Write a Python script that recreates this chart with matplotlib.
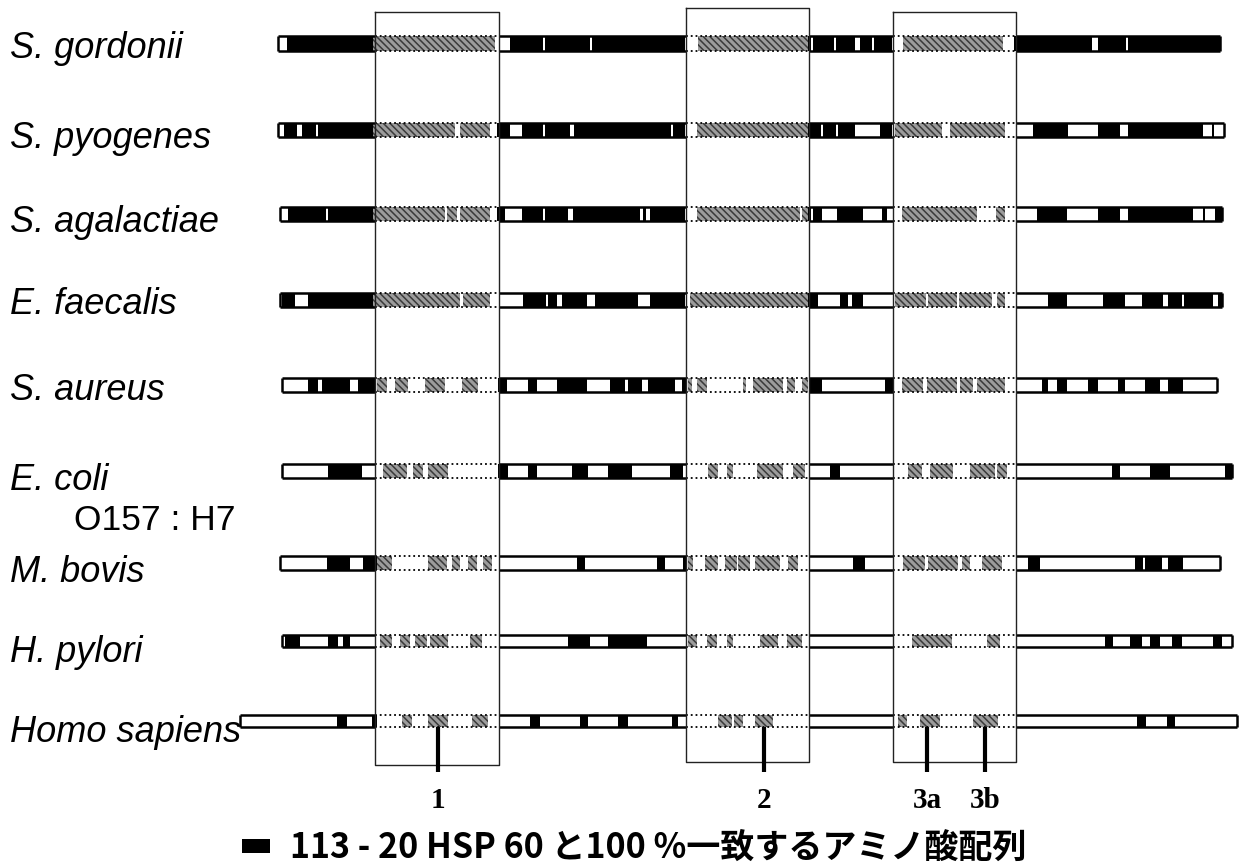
import matplotlib
matplotlib.use('Agg')
import matplotlib.pyplot as plt

plt.rcParams['font.family'] = ['Liberation Sans', 'Noto Sans CJK JP', 'DejaVu Sans']
plt.rcParams['hatch.color'] = '#3a3a3a'
plt.rcParams['hatch.linewidth'] = 1.1

# species in the alignment
species = ['S. gordonii', 'S. pyogenes', 'S. agalactiae', 'E. faecalis', 'S. aureus',
           'E. coli', 'M. bovis', 'H. pylori', 'Homo sapiens']

# alignment extent of each sequence
seq_start = [278, 278, 280, 280, 282, 282, 280, 282, 240]
seq_end = [1220, 1224, 1222, 1222, 1217, 1232, 1220, 1232, 1237]

# stretches identical to 113-20 HSP60 (black)
identical = [
    [(287, 373), (510, 543), (545, 590), (592, 685), (808, 811), (813, 834), (836, 855),
     (860, 872), (874, 892), (1014, 1092), (1098, 1126), (1128, 1220)],
    [(284, 297), (302, 316), (318, 373), (497, 510), (522, 543), (545, 570), (574, 671),
     (673, 685), (808, 821), (823, 836), (838, 855), (880, 892), (1033, 1068), (1098, 1120),
     (1128, 1203), (1212, 1214)],
    [(288, 326), (328, 373), (497, 505), (522, 543), (545, 568), (573, 640), (643, 646),
     (650, 685), (808, 811), (813, 822), (837, 863), (882, 887), (1037, 1067), (1098, 1120),
     (1128, 1193), (1203, 1205), (1215, 1222)],
    [(282, 295), (308, 373), (523, 546), (548, 557), (562, 587), (595, 638), (650, 685),
     (808, 818), (840, 848), (852, 863), (1048, 1067), (1103, 1125), (1142, 1163),
     (1168, 1182), (1184, 1213), (1218, 1222)],
    [(308, 318), (322, 350), (358, 375), (498, 507), (528, 537), (557, 587), (610, 625),
     (628, 642), (648, 675), (682, 687), (810, 822), (885, 893), (1042, 1048), (1057, 1067),
     (1088, 1098), (1118, 1125), (1145, 1160), (1168, 1183)],
    [(328, 362), (498, 508), (528, 537), (572, 588), (608, 632), (670, 683), (830, 840),
     (1112, 1120), (1150, 1170), (1225, 1232)],
    [(327, 350), (363, 377), (577, 585), (657, 665), (683, 687), (853, 865), (1028, 1040),
     (1135, 1143), (1145, 1162), (1168, 1183)],
    [(285, 300), (328, 338), (343, 350), (568, 590), (608, 647), (1105, 1113), (1130, 1142),
     (1150, 1160), (1172, 1182), (1213, 1222)],
    [(337, 347), (372, 377), (530, 540), (580, 588), (618, 628), (672, 678), (1137, 1146),
     (1167, 1175)],
]

# stretches in the epitope regions matching HSP60 (hatched)
matching = [
    [(373, 495), (698, 808), (903, 1003)],
    [(373, 455), (460, 490), (697, 808), (895, 942), (950, 1005)],
    [(373, 445), (447, 457), (460, 490), (697, 800), (802, 808), (902, 977), (996, 1005)],
    [(373, 460), (463, 490), (690, 808), (895, 926), (928, 957), (959, 992), (997, 1005)],
    [(377, 387), (395, 408), (425, 445), (462, 478), (688, 692), (697, 707), (743, 746),
     (753, 783), (787, 795), (802, 808), (902, 923), (927, 957), (960, 973), (977, 1005)],
    [(383, 407), (413, 423), (428, 448), (708, 718), (727, 733), (757, 783), (793, 805),
     (908, 922), (930, 953), (970, 995), (997, 1007)],
    [(377, 392), (428, 447), (452, 460), (468, 477), (483, 492), (688, 693), (705, 718),
     (725, 737), (738, 750), (755, 780), (788, 798), (903, 925), (928, 958), (962, 970),
     (982, 1002)],
    [(380, 392), (400, 410), (415, 427), (430, 448), (470, 482), (688, 697), (707, 717),
     (727, 733), (760, 778), (787, 802), (912, 952), (987, 1000)],
    [(402, 412), (428, 448), (472, 488), (718, 732), (734, 743), (755, 773), (898, 907),
     (920, 940), (973, 998)],
]

# epitope regions and marked peptides
regions = [(375, 499), (686, 809), (893, 1016)]
peptides = [438, 764, 927, 985]
peptide_labels = ['1', '2', '3a', '3b']
legend_text = '113 - 20 HSP 60 と100 %一致するアミノ酸配列'

# layout (pixel space)
row_y = [43, 130, 214, 300, 385, 471, 563, 641, 721]
bar_h = [15, 14, 14, 14, 14, 14, 14, 12, 12]
label_y = [48, 138, 222, 305, 391, 480, 572, 652, 733]
region_top = [12, 8, 12]
region_bottom = [765, 762, 762]

fig = plt.figure(figsize=(12.41, 8.68), dpi=100)
ax = fig.add_axes([0, 0, 1, 1])
ax.set_xlim(0, 1241)
ax.set_ylim(868, 0)
ax.axis('off')


def split_by_regions(a, b):
    """return (outside, inside) pieces of [a, b]"""
    cuts = [a]
    for r0, r1 in regions:
        cuts += [r0, r1]
    cuts.append(b)
    out, ins = [], []
    for i in range(len(cuts) - 1):
        s, e = max(cuts[i], a), min(cuts[i + 1], b)
        if e > s:
            (ins if i % 2 == 1 else out).append((s, e))
    return out, ins


for i, name in enumerate(species):
    y = row_y[i]
    h = bar_h[i]
    y0 = y - h / 2
    s, e = seq_start[i], seq_end[i]
    ax.broken_barh([(s, e - s)], (y0, h), facecolors='white', zorder=1)
    ax.broken_barh([(a, b - a) for a, b in matching[i]], (y0, h),
                   facecolors='#9c9c9c', hatch='\\\\\\\\\\', linewidth=0, zorder=2)
    ax.broken_barh([(a, b - a) for a, b in identical[i]], (y0, h),
                   facecolors='black', zorder=2)
    out, ins = split_by_regions(s, e)
    for a, b in out:
        ax.hlines([y0, y0 + h], a, b, colors='black', linewidth=1.8, zorder=3)
    for a, b in ins:
        ax.hlines([y0, y0 + h], a, b, colors='black', linewidth=1.3,
                  linestyles=':', zorder=3)
    ax.vlines([s, e], y0, y0 + h, colors='black', linewidth=1.8, zorder=3)

    ax.text(10, label_y[i], name, fontsize=26, style='italic',
            ha='left', va='center', zorder=5)
ax.text(74, 520, 'O157 : H7', fontsize=25.5, ha='left', va='center')

for (r0, r1), t, b in zip(regions, region_top, region_bottom):
    ax.plot([r0, r1, r1, r0, r0], [t, t, b, b, t], color='#222222',
            linewidth=1.0, zorder=4)

ax.vlines(peptides, 727, 772, colors='black', linewidth=3, zorder=4)
for px, lab in zip(peptides, peptide_labels):
    ax.text(px, 800, lab, fontsize=21, fontweight='bold', family='Liberation Serif',
            ha='center', va='center')

# legend
ax.broken_barh([(242, 28)], (839, 14), facecolors='black')
ax.text(290, 847, legend_text, fontsize=24.5, fontweight='bold',
        family=['Noto Sans CJK JP', 'DejaVu Sans'], ha='left', va='center')

fig.savefig('out.png', dpi=100)
